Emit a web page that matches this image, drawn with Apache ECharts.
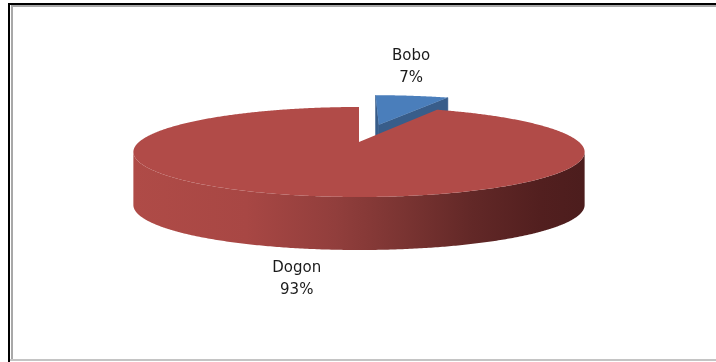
<!DOCTYPE html>
<html>
<head>
<meta charset="utf-8">
<script src="https://cdn.jsdelivr.net/npm/echarts@6/dist/echarts.min.js"></script>
<style>
  html, body { margin: 0; padding: 0; background: #ffffff; }
  #chart { width: 716px; height: 362px; }
</style>
</head>
<body>
<div id="chart"></div>
<script>
// Ethnic groups and their share of the sample (percent)
const categories = ['Bobo', 'Dogon'];
const shares = [7, 93];
const pulledOut = [true, false];

// Styling for each slice: top face, cut face
const topFill = ['#4A7EBB', '#B14B48'];
const cutFill = ['#385D8A', '#8E3B39'];

// Tilted-disc geometry (screen pixels)
const geo = {
  cx: 359, cy: 142,     // centre of the top face
  R: 220,               // disc radius
  q: 0.1945,            // vertical squash of the disc
  k: 0.222,             // perspective strength
  H: 53,                // thickness of the disc
  pull: 100             // distance a pulled-out slice moves
};

const total = shares.reduce((a, b) => a + b, 0);

function project(X, Z) {
  const d = Z / geo.R;
  const w = 1 / (1 - geo.k * d);
  return [geo.cx + X * w, geo.cy + geo.q * Z * w];
}
function down(p) { return [p[0], p[1] + geo.H]; }

const wallGradient = new echarts.graphic.LinearGradient(
  geo.cx - geo.R * 1.03, 0, geo.cx + geo.R * 1.03, 0,
  [
    { offset: 0, color: '#AF4B47' },
    { offset: 0.25, color: '#A84744' },
    { offset: 0.45, color: '#913E3C' },
    { offset: 0.6, color: '#7A3432' },
    { offset: 0.75, color: '#622827' },
    { offset: 0.9, color: '#521F1F' },
    { offset: 1, color: '#4C1D1D' }
  ],
  true
);

function renderSlice(params, api) {
  const i = params.dataIndex;
  let before = 0;
  for (let j = 0; j < i; j++) before += shares[j];
  const value = api.value(0);
  const a0 = before / total * Math.PI * 2;
  const a1 = (before + value) / total * Math.PI * 2;
  const mid = (a0 + a1) / 2;
  const e = pulledOut[i] ? geo.pull : 0;
  const ox = e * Math.sin(mid), oz = -e * Math.cos(mid);
  const at = (t, r) => [ox + r * Math.sin(t), oz - r * Math.cos(t)];

  // sample the rim
  const steps = Math.max(8, Math.ceil((a1 - a0) / (Math.PI / 360)));
  const rim = [];
  for (let s = 0; s <= steps; s++) {
    const t = a0 + (a1 - a0) * s / steps;
    const p = at(t, geo.R);
    rim.push(project(p[0], p[1]));
  }
  const V = project(ox, oz);
  const children = [];

  // radial cut faces that turn towards the viewer
  const camX = 0, camZ = geo.R / geo.k;
  const full = (a1 - a0) >= Math.PI * 2 - 1e-6;
  if (!full) {
    const faces = [
      { t: a0, n: [-Math.cos(a0), -Math.sin(a0)] },
      { t: a1, n: [Math.cos(a1), Math.sin(a1)] }
    ];
    faces.forEach(f => {
      const dot = f.n[0] * (camX - ox) + f.n[1] * (camZ - oz);
      if (dot > 0) {
        const p = at(f.t, geo.R);
        const P = project(p[0], p[1]);
        children.push({
          type: 'polygon',
          shape: { points: [V, P, down(P), down(V)] },
          style: { fill: cutFill[i], stroke: cutFill[i], lineWidth: 0.5 }
        });
      }
    });
  }

  // outer wall: only the runs of rim that face the viewer
  let run = [];
  const flush = () => {
    if (run.length > 1) {
      const pts = run.concat(run.slice().reverse().map(down));
      children.push({
        type: 'polygon',
        shape: { points: pts },
        style: { fill: i === 1 ? wallGradient : cutFill[i] }
      });
    }
    run = [];
  };
  for (let s = 0; s < steps; s++) {
    const facing = rim[s + 1][0] < rim[s][0];
    if (facing) {
      if (run.length === 0) run.push(rim[s]);
      run.push(rim[s + 1]);
    } else {
      flush();
    }
  }
  flush();

  // top face
  const topPts = full ? rim : [V].concat(rim);
  children.push({
    type: 'polygon',
    shape: { points: topPts },
    style: { fill: topFill[i] }
  });

  // label outside the slice
  const lp = at(mid, geo.R);
  const L = project(lp[0], lp[1]);
  const ly = lp[1] < 0 ? L[1] - 29 : L[1] + geo.H + 31;
  const pct = Math.round(value / total * 100);
  children.push({
    type: 'text',
    x: L[0] - 1,
    y: ly,
    style: {
      text: categories[i] + '\n' + pct + '%',
      fill: '#1a1a1a',
      fontSize: 15,
      fontFamily: 'DejaVu Sans',
      lineHeight: 22,
      align: 'center',
      verticalAlign: 'middle'
    }
  });

  return { type: 'group', children };
}

const chart = echarts.init(document.getElementById('chart'), null, { renderer: 'canvas' });
chart.setOption({
  animation: false,
  backgroundColor: '#ffffff',
  graphic: [
    // frame around the chart area
    { type: 'rect', shape: { x: 8, y: 3, width: 708, height: 2 }, style: { fill: '#000' }, z: 10 },
    { type: 'rect', shape: { x: 8, y: 3, width: 2, height: 359 }, style: { fill: '#000' }, z: 10 },
    { type: 'rect', shape: { x: 11, y: 5, width: 705, height: 2 }, style: { fill: '#a8a8a8' }, z: 10 },
    { type: 'rect', shape: { x: 11, y: 5, width: 2, height: 356 }, style: { fill: '#a8a8a8' }, z: 10 },
    { type: 'rect', shape: { x: 10, y: 359, width: 706, height: 2 }, style: { fill: '#c4c4c4' }, z: 10 }
  ],
  series: [{
    type: 'custom',
    coordinateSystem: 'none',
    silent: true,
    renderItem: renderSlice,
    data: categories.map((c, i) => ({ name: c, value: shares[i] }))
  }]
});
</script>
</body>
</html>
